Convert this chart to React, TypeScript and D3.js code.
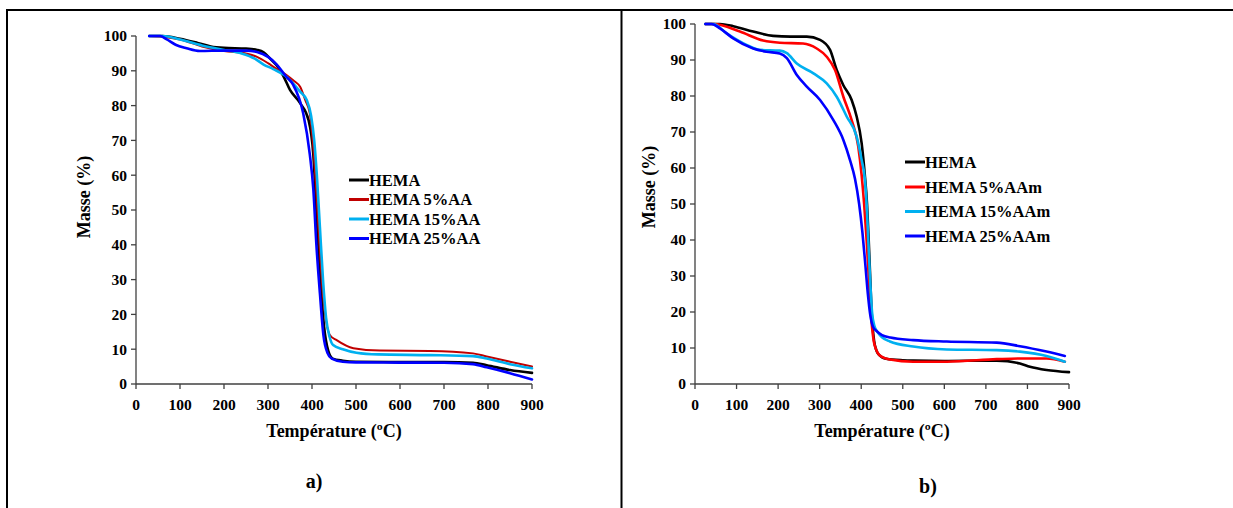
import React from "react";
import * as d3 from "d3";

type Pt = [number, number];

const xTicks = [0, 100, 200, 300, 400, 500, 600, 700, 800, 900];
const yTicks = [0, 10, 20, 30, 40, 50, 60, 70, 80, 90, 100];

// Panel a) — HEMA / AA
const hemaA: Pt[] = [[30,100],[60,100],[100,99.2],[140,98],[170,97],[200,96.6],[250,96.4],[275,96],[290,95.3],[305,93.5],[320,91.5],[335,88.5],[350,84.5],[373,80.7],[392,75.9],[403,66],[410,50],[418,32],[427,17],[437,9.5],[447,7.3],[470,6.7],[500,6.4],[600,6.3],[700,6.3],[766,6.1],[797,5.4],[850,4.0],[900,3.2]];
const aa5: Pt[] = [[30,100],[60,99.8],[100,99],[150,97],[200,95.7],[250,95],[275,94],[300,92.2],[320,90.5],[342,88.8],[360,87],[373,85.4],[385,81.5],[395,77.8],[403,68],[410,55],[417,40],[424,27],[432,18],[441,14],[456,12.6],[494,10.3],[554,9.6],[668,9.5],[766,8.8],[797,7.9],[850,6.4],[900,5.0]];
const aa15: Pt[] = [[30,100],[60,100],[100,99],[150,97.3],[200,96],[240,95],[270,93.5],[290,91.8],[312,90.5],[340,88.5],[373,84],[388,81.6],[398,77],[405,70],[411,60],[418,45],[425,30],[432,19],[440,13.5],[448,11.2],[470,10],[501,9.0],[550,8.5],[668,8.3],[766,8.0],[797,7.3],[850,5.7],[900,4.5]];
const aa25: Pt[] = [[30,100],[55,100],[70,99],[90,97.5],[115,96.5],[145,95.7],[200,95.8],[250,95.8],[275,95.4],[300,94],[320,91.8],[340,88.5],[357,86],[380,77.8],[395,66],[403,56],[410,40],[418,26],[426,14],[435,9],[445,7.3],[470,6.4],[500,6.2],[700,6.1],[766,5.7],[797,4.8],[850,3.1],[900,1.3]];

// Panel b) — HEMA / AAm
const hemaB: Pt[] = [[25,100],[60,100],[92,99.4],[140,97.9],[188,96.7],[230,96.5],[269,96.5],[301,95.6],[325,92.8],[341,87.2],[357,83],[377,78.9],[389,74.3],[401,66.9],[409,57.6],[414,50],[418,40],[421.5,30],[425,20],[431,12],[436,9.5],[442,8.2],[460,7.0],[500,6.6],[525,6.5],[600,6.4],[726,6.5],[782,5.7],[806,4.8],[846,3.9],[900,3.3]];
const aam5: Pt[] = [[25,100],[45,100],[108,97.9],[164,95.4],[204,94.8],[260,94.6],[293,93.2],[317,90.9],[337,87.2],[357,79.8],[377,73.3],[393,65.9],[401,58],[407,50],[413,40],[418,30],[423,20],[430,12],[436,9.5],[444,8.0],[469,6.8],[525,6.2],[606,6.2],[726,6.9],[782,7.1],[846,7.1],[890,6.2]];
const aam15: Pt[] = [[25,100],[44,100],[76,97.4],[124,94.2],[156,92.8],[204,92.6],[221,91.9],[245,89],[285,86.3],[317,83.5],[341,79.8],[365,74.3],[389,68.7],[401,62.2],[409,56.7],[413,50],[417,40],[421,30],[426,20],[432,16],[440,14.3],[450,13],[469,11.8],[525,10.4],[606,9.6],[726,9.4],[782,9.0],[846,7.8],[890,6.2]];
const aam25: Pt[] = [[25,100],[40,100],[60,98.8],[92,96],[140,93.2],[172,92.3],[204,91.8],[221,90.5],[245,85.8],[269,82.6],[301,78.9],[333,73.3],[357,67.8],[373,62.2],[385,57],[395,50],[403,42],[410,33],[416,25],[422,19],[428,16],[436,14.8],[450,13.6],[470,12.9],[525,12.2],[606,11.8],[726,11.5],[782,10.5],[846,9.0],[890,7.8]];

const labelsA = ["HEMA", "HEMA 5%AA", "HEMA 15%AA", "HEMA 25%AA"];
const labelsB = ["HEMA", "HEMA 5%AAm", "HEMA 15%AAm", "HEMA 25%AAm"];

const FONT = "'Liberation Serif', 'Times New Roman', serif";

interface PanelProps {
  series: Pt[][];
  labels: string[];
  colors: string[];
  widths: number[];
  x0: number; x1: number; yTop: number; yBot: number;
  yTitleX: number; yTitleY: number;
  legX: number; legYs: number[];
  tag: string; tagX: number; tagY: number;
}

function Panel(p: PanelProps) {
  const x = d3.scaleLinear().domain([0, 900]).range([p.x0, p.x1]);
  const y = d3.scaleLinear().domain([0, 100]).range([p.yBot, p.yTop]);
  const line = d3.line<Pt>().x(d => x(d[0])).y(d => y(d[1])).curve(d3.curveMonotoneX);
  const axisColor = "#404040";
  return (
    <g>
      <line x1={p.x0} x2={p.x0} y1={p.yTop} y2={p.yBot} stroke={axisColor} strokeWidth={1.3} />
      <line x1={p.x0} x2={p.x1} y1={p.yBot} y2={p.yBot} stroke={axisColor} strokeWidth={1.3} />
      {yTicks.map(t => (
        <g key={"y" + t}>
          <line x1={p.x0 - 5} x2={p.x0} y1={y(t)} y2={y(t)} stroke={axisColor} strokeWidth={1.3} />
          <text x={p.x0 - 9} y={y(t)} dy="0.35em" textAnchor="end" fontFamily={FONT} fontWeight="bold" fontSize={15.5} fill="#000">{t}</text>
        </g>
      ))}
      {xTicks.map(t => (
        <g key={"x" + t}>
          <line x1={x(t)} x2={x(t)} y1={p.yBot} y2={p.yBot + 5} stroke={axisColor} strokeWidth={1.3} />
          <text x={x(t)} y={p.yBot + 26} textAnchor="middle" fontFamily={FONT} fontWeight="bold" fontSize={15.5} fill="#000">{t}</text>
        </g>
      ))}
      <text x={(p.x0 + p.x1) / 2} y={437} textAnchor="middle" fontFamily={FONT} fontWeight="bold" fontSize={18} fill="#000">Température (ºC)</text>
      <text transform={`translate(${p.yTitleX},${p.yTitleY}) rotate(-90)`} dy="0.35em" textAnchor="middle" fontFamily={FONT} fontWeight="bold" fontSize={18} fill="#000">Masse (%)</text>
      {p.series.map((s, i) => (
        <path key={"s" + i} d={line(s) || ""} fill="none" stroke={p.colors[i]} strokeWidth={p.widths[i]} strokeLinejoin="round" strokeLinecap="round" />
      ))}
      {p.labels.map((l, i) => (
        <g key={"l" + i}>
          <line x1={p.legX} x2={p.legX + 20} y1={p.legYs[i]} y2={p.legYs[i]} stroke={p.colors[i]} strokeWidth={3} />
          <text x={p.legX + 20} y={p.legYs[i]} dy="0.35em" fontFamily={FONT} fontWeight="bold" fontSize={16.5} fill="#000">{l}</text>
        </g>
      ))}
      <text x={p.tagX} y={p.tagY} textAnchor="middle" fontFamily={FONT} fontWeight="bold" fontSize={20} fill="#000">{p.tag}</text>
    </g>
  );
}

export default function App() {
  return (
    <svg width={1233} height={508} style={{ position: "absolute", left: 0, top: 0, background: "#fff" }}>
      <rect x={0} y={0} width={1233} height={508} fill="#fff" />
      <line x1={6} x2={1233} y1={10} y2={10} stroke="#000" strokeWidth={2} />
      <line x1={7} x2={7} y1={9} y2={508} stroke="#000" strokeWidth={2} />
      <line x1={621.5} x2={621.5} y1={9} y2={508} stroke="#000" strokeWidth={2} />
      <Panel
        series={[hemaA, aa5, aa15, aa25]}
        labels={labelsA}
        colors={["#000000", "#C00000", "#00B0F0", "#0000FF"]}
        widths={[2.6, 2, 2.6, 2.6]}
        x0={136} x1={532} yTop={36} yBot={384}
        yTitleX={84} yTitleY={197}
        legX={349} legYs={[180, 199.5, 219, 238.5]}
        tag="a)" tagX={314} tagY={488}
      />
      <Panel
        series={[hemaB, aam5, aam15, aam25]}
        labels={labelsB}
        colors={["#000000", "#FF0000", "#00B0F0", "#0000FF"]}
        widths={[2.6, 2.6, 2.6, 2.6]}
        x0={695} x1={1069} yTop={24} yBot={384}
        yTitleX={649} yTitleY={187}
        legX={905} legYs={[162, 187, 211.5, 236]}
        tag="b)" tagX={928} tagY={493}
      />
    </svg>
  );
}
